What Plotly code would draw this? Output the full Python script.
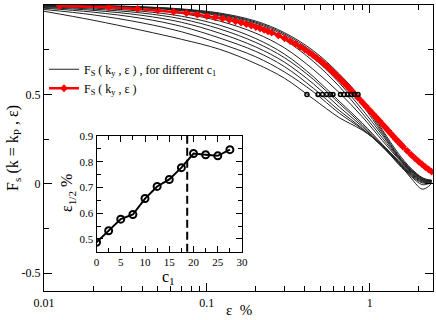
import plotly.graph_objects as go

# strain grid (in %) used for the black curves
eps_grid = [0.01, 0.02, 0.04, 0.07, 0.12, 0.2, 0.3, 0.45, 0.65, 0.9, 1.2, 1.5, 1.8, 2.1, 2.3, 2.4]

# F_s(k_y, eps) for the different c1 values (lowest -> highest curve)
F_c1_00 = [0.965, 0.915, 0.858, 0.808, 0.752, 0.672, 0.590, 0.475, 0.370, 0.300, 0.215, 0.120, 0.030, -0.030, -0.015, 0.005]
F_c1_02 = [0.975, 0.945, 0.900, 0.850, 0.785, 0.710, 0.625, 0.515, 0.395, 0.305, 0.210, 0.110, 0.040, -0.005, 0.000, 0.005]
F_c1_05 = [0.982, 0.960, 0.925, 0.880, 0.815, 0.740, 0.655, 0.535, 0.410, 0.310, 0.205, 0.115, 0.045, 0.005, 0.005, 0.010]
F_c1_07 = [0.986, 0.970, 0.942, 0.903, 0.842, 0.765, 0.680, 0.560, 0.430, 0.320, 0.210, 0.120, 0.050, 0.010, 0.008, 0.010]
F_c1_10 = [0.990, 0.977, 0.955, 0.922, 0.866, 0.790, 0.705, 0.585, 0.450, 0.330, 0.215, 0.125, 0.055, 0.015, 0.010, 0.012]
F_c1_12 = [0.993, 0.983, 0.965, 0.937, 0.887, 0.812, 0.725, 0.600, 0.462, 0.340, 0.220, 0.130, 0.060, 0.018, 0.012, 0.014]
F_c1_15 = [0.995, 0.988, 0.975, 0.952, 0.910, 0.842, 0.760, 0.640, 0.510, 0.375, 0.240, 0.140, 0.065, 0.020, 0.014, 0.015]
F_c1_17 = [0.997, 0.993, 0.984, 0.968, 0.938, 0.880, 0.805, 0.685, 0.545, 0.395, 0.255, 0.145, 0.070, 0.025, 0.016, 0.016]
F_c1_20 = [0.998, 0.994, 0.986, 0.971, 0.943, 0.890, 0.818, 0.705, 0.565, 0.415, 0.270, 0.150, 0.072, 0.028, 0.018, 0.017]
F_c1_22 = [0.998, 0.995, 0.987, 0.974, 0.948, 0.898, 0.830, 0.722, 0.590, 0.440, 0.280, 0.155, 0.076, 0.030, 0.020, 0.018]
F_c1_25 = [0.999, 0.996, 0.989, 0.976, 0.951, 0.904, 0.838, 0.735, 0.605, 0.455, 0.290, 0.160, 0.080, 0.032, 0.021, 0.019]
F_c1_27 = [0.999, 0.997, 0.990, 0.978, 0.955, 0.910, 0.845, 0.745, 0.615, 0.470, 0.300, 0.170, 0.085, 0.035, 0.022, 0.020]
black_curves = [F_c1_00, F_c1_02, F_c1_05, F_c1_07, F_c1_10, F_c1_12,
                F_c1_15, F_c1_17, F_c1_20, F_c1_22, F_c1_25, F_c1_27]

# red curve F_s(k_y, eps)
red_eps = [0.0125, 0.025, 0.0375, 0.05, 0.0625, 0.075, 0.0875, 0.1, 0.1125, 0.125,
           0.1375, 0.15, 0.1625, 0.175, 0.1875, 0.2, 0.2125, 0.225, 0.2375, 0.25,
           0.275, 0.3, 0.325, 0.35, 0.375, 0.4, 0.425, 0.45, 0.475, 0.5,
           0.525, 0.55, 0.575, 0.6, 0.625, 0.65, 0.675, 0.7, 0.725, 0.75,
           0.775, 0.8, 0.85, 0.9, 0.95, 1.0, 1.05, 1.1, 1.15, 1.2,
           1.25, 1.3, 1.35, 1.4, 1.45, 1.5, 1.55, 1.6, 1.7, 1.8,
           1.9, 2.0, 2.1, 2.2, 2.3, 2.4]
red_F = [0.995, 0.988, 0.978, 0.970, 0.962, 0.955, 0.946, 0.938, 0.931, 0.924,
         0.917, 0.909, 0.901, 0.893, 0.885, 0.877, 0.869, 0.861, 0.853, 0.846,
         0.830, 0.814, 0.798, 0.782, 0.766, 0.750, 0.734, 0.718, 0.702, 0.686,
         0.670, 0.654, 0.638, 0.622, 0.606, 0.591, 0.576, 0.561, 0.547, 0.533,
         0.519, 0.505, 0.480, 0.456, 0.433, 0.411, 0.390, 0.370, 0.351, 0.332,
         0.314, 0.297, 0.280, 0.264, 0.249, 0.235, 0.221, 0.208, 0.184, 0.162,
         0.142, 0.124, 0.108, 0.093, 0.080, 0.068]

# half-decay points on the main panel
eps_half_main = [0.412, 0.482, 0.513, 0.543, 0.575, 0.595, 0.662, 0.696, 0.731, 0.768, 0.807, 0.848]
F_half = 0.5

# inset: eps_1/2 vs c1
c1_vals = [0, 2.5, 5, 7.5, 10, 12.5, 15, 17.5, 20, 22.5, 25, 27.5]
eps_half = [0.487, 0.532, 0.577, 0.595, 0.657, 0.704, 0.731, 0.777, 0.832, 0.827, 0.823, 0.847]
c1_crit = 18.7

serif = "Liberation Serif, Times New Roman, Times, serif"

fig = go.Figure()

for i, F in enumerate(black_curves):
    fig.add_trace(go.Scatter(
        x=eps_grid, y=F, mode="lines", line=dict(color="#222222", width=1, shape="spline"),
        name="F<sub>S</sub> ( k<sub>y</sub> , ε ) , for different c<sub>1</sub>",
        showlegend=(i == 0), legendrank=1))

fig.add_trace(go.Scatter(
    x=red_eps, y=red_F, mode="lines+markers",
    line=dict(color="red", width=2.5),
    marker=dict(symbol="diamond", size=6, color="red"),
    name="F<sub>S</sub> ( k<sub>y</sub> , ε )", legendrank=2))

fig.add_trace(go.Scatter(
    x=eps_half_main, y=[F_half] * len(eps_half_main), mode="markers",
    marker=dict(symbol="circle-open", size=4, color="black", line=dict(width=1.5)),
    showlegend=False))

# inset
fig.add_trace(go.Scatter(
    x=c1_vals, y=eps_half, mode="lines+markers", xaxis="x2", yaxis="y2",
    line=dict(color="black", width=2),
    marker=dict(symbol="circle-open", size=7, color="black", line=dict(width=2)),
    showlegend=False))

fig.add_shape(type="line", x0=c1_crit, x1=c1_crit, y0=0, y1=1,
              xref="x2", yref="y2 domain",
              line=dict(color="black", width=2, dash="8px,4px"))

ax_common = dict(showline=True, linecolor="black", linewidth=1.3, mirror="ticks",
                 ticks="inside", tickcolor="black", showgrid=False, zeroline=False,
                 automargin=False,
                 tickfont=dict(family=serif, size=12, color="black"))
inset_font = dict(family=serif, size=11, color="black")

fig.update_layout(
    width=436, height=320,
    margin=dict(l=44, r=3, t=5, b=29),
    paper_bgcolor="white", plot_bgcolor="white",
    font=dict(family=serif, size=12, color="black"),
    xaxis=dict(type="log", range=[-2, 0.389],
               tickvals=[0.01, 0.1, 1], ticktext=["0.01", "0.1", "1"], ticklen=8,
               minor=dict(ticks="inside", ticklen=5, tickcolor="black",
                          tickvals=[0.02, 0.03, 0.04, 0.05, 0.06, 0.07, 0.08, 0.09,
                                    0.2, 0.3, 0.4, 0.5, 0.6, 0.7, 0.8, 0.9, 2]),
               **ax_common),
    yaxis=dict(range=[-0.6, 1.0], tickvals=[-0.5, 0, 0.5, 1], ticktext=["-0.5", "0", "0.5", "1"],
               ticklen=8, minor=dict(ticks="inside", ticklen=5, tickcolor="black", dtick=0.25, tick0=0),
               **ax_common),
    xaxis2=dict(domain=[0.135, 0.509], anchor="y2", range=[0, 30], dtick=5, ticklen=6,
                minor=dict(ticks="inside", ticklen=4, tickcolor="black", dtick=2.5),
                **{**ax_common, "tickfont": inset_font}),
    yaxis2=dict(domain=[0.137, 0.542], anchor="x2", range=[0.45, 0.9], ticklen=6,
                tickvals=[0.5, 0.6, 0.7, 0.8, 0.9],
                minor=dict(ticks="inside", ticklen=4, tickcolor="black", dtick=0.05, tick0=0.45),
                **{**ax_common, "tickfont": inset_font}),
    legend=dict(x=0.0, y=0.826, xanchor="left", yanchor="top", bgcolor="rgba(0,0,0,0)",
                font=dict(family=serif, size=12), itemwidth=30, tracegroupgap=0),
)

# axis titles
fig.add_annotation(text="F<sub>s</sub> (k = k<sub>P</sub> , ε)", xref="paper", yref="paper",
                   x=-0.08, y=0.5, xanchor="center", yanchor="middle", textangle=-90,
                   showarrow=False, font=dict(family=serif, size=16))
fig.add_annotation(text="ε  %", xref="paper", yref="paper", x=0.5, y=-0.068,
                   xanchor="center", yanchor="middle",
                   showarrow=False, font=dict(family=serif, size=15))
fig.add_annotation(text="c<sub>1</sub>", xref="paper", yref="paper", x=0.319, y=0.046,
                   xanchor="center", yanchor="middle",
                   showarrow=False, font=dict(family=serif, size=16))
fig.add_annotation(text="ε<sub>1/2</sub> %", xref="paper", yref="paper", x=0.062, y=0.343,
                   xanchor="center", yanchor="middle", textangle=-90,
                   showarrow=False, font=dict(family=serif, size=16))

# drop the browser's default 8px body margin so the figure sits at the page origin
fig.write_html("out.html", config={"displayModeBar": False},
               post_script="document.body.style.margin='0px';")
